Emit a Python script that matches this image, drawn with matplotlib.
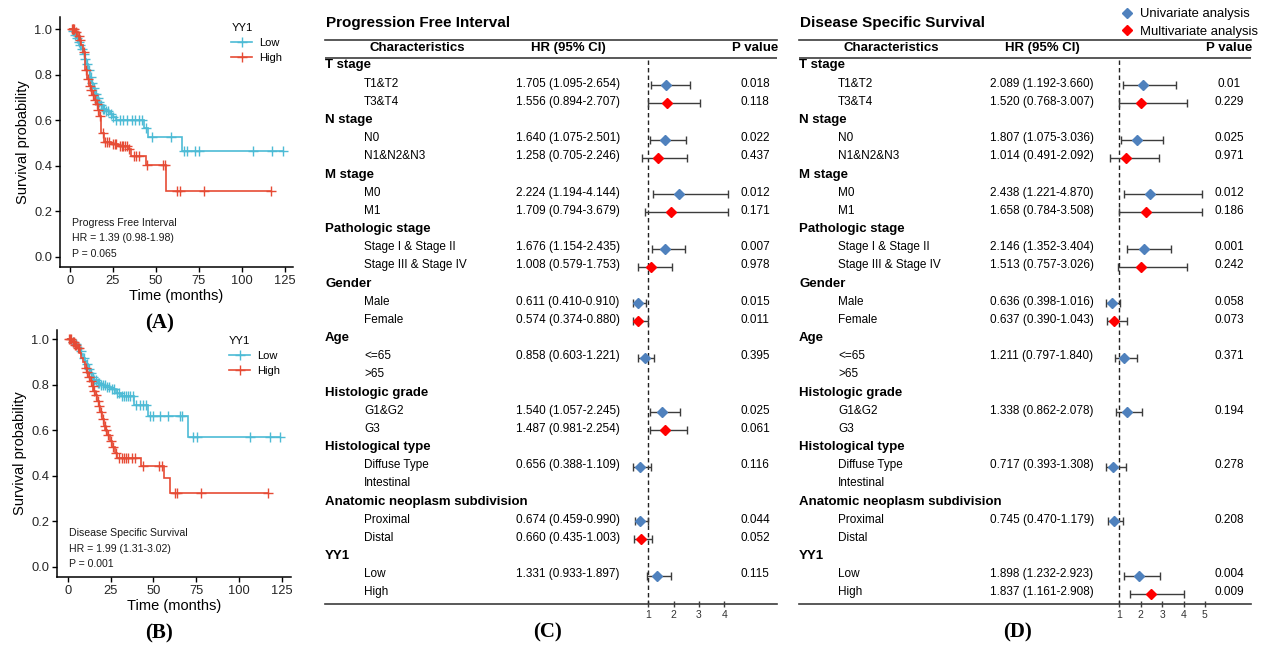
import numpy as np
import matplotlib
matplotlib.use('Agg')
import matplotlib.pyplot as plt
from matplotlib.lines import Line2D
from matplotlib.transforms import blended_transform_factory

plt.rcParams['font.family'] = ['Liberation Sans', 'DejaVu Sans']

W, H = 1263, 647
fig = plt.figure(figsize=(W / 100, H / 100), dpi=100)


def px_axes(x0, y0, x1, y1):
    return fig.add_axes([x0 / W, 1 - y1 / H, (x1 - x0) / W, (y1 - y0) / H])


# ---------------- Kaplan-Meier data ----------------
LOW_COLOR = '#4DBBD5'
HIGH_COLOR = '#E64B35'

A_low_t = [0, 1.5, 2.5, 3.5, 4.5, 5.5, 6.5, 7.5, 8.5, 9.5, 10.5, 11.5, 12.5, 13.5, 14.5,
           15.5, 16.5, 17.5, 19, 21, 23, 25, 27, 43, 45.5, 65]
A_low_s = [1.0, 0.99, 0.975, 0.96, 0.945, 0.93, 0.91, 0.89, 0.87, 0.845, 0.82, 0.79, 0.765,
           0.74, 0.715, 0.695, 0.68, 0.665, 0.65, 0.638, 0.625, 0.612, 0.602, 0.565, 0.525, 0.465]
A_low_c = [2, 3, 4, 5, 6, 7, 8, 9, 10, 11, 12, 13, 14, 15, 16, 17, 18, 19, 20, 21, 22, 24, 25,
           27, 29, 31, 33, 36, 38, 40, 42, 44, 47.5, 58.5, 66.5, 68, 72.5, 75, 106.5, 117.5, 124]

A_high_t = [0, 3, 4.5, 5.5, 6.5, 7.5, 8.5, 9, 10, 11, 12, 13, 14, 15, 16, 17, 18, 19.5, 24,
            28, 33.5, 35.5, 44, 56]
A_high_s = [1.0, 0.985, 0.97, 0.95, 0.93, 0.90, 0.86, 0.82, 0.78, 0.75, 0.73, 0.71, 0.69, 0.67,
            0.645, 0.62, 0.545, 0.505, 0.493, 0.486, 0.472, 0.442, 0.403, 0.287]
A_high_c = [1, 1.5, 2, 2.5, 3.5, 5, 6, 8, 9.5, 10.5, 11.5, 12.5, 13.5, 14.5, 15.5, 16.5, 17.5,
            19, 20.5, 21.5, 22.5, 25, 26, 27, 29, 30, 31, 32, 33, 34.5, 37, 38.5, 40, 44.5, 54,
            55, 62, 64, 78, 117]

B_low_t = [0, 2, 4, 6, 7, 8, 9, 10, 11, 12, 13, 14, 15, 17, 19, 22, 25, 28, 31, 39, 47, 70]
B_low_s = [1.0, 0.99, 0.98, 0.965, 0.95, 0.935, 0.92, 0.905, 0.89, 0.87, 0.85, 0.835, 0.82,
           0.81, 0.80, 0.79, 0.78, 0.765, 0.75, 0.711, 0.665, 0.571]
B_low_c = [3, 5, 7.5, 9.5, 11.5, 12.5, 13.5, 14.5, 15.5, 16.5, 17.5, 18.5, 19.5, 20.5, 21.5,
           23, 24, 26, 27, 29, 30, 32, 33, 34, 35, 36.5, 38, 40, 42, 44, 46, 48, 50, 54, 58.5,
           65.5, 67, 73, 75.5, 106.5, 118, 124]

B_high_t = [0, 2.5, 4, 5.5, 7, 8, 9, 10, 11, 12, 13, 14, 15, 16, 17, 18, 19, 20, 21, 22, 23,
            24.5, 26, 27.5, 29, 43, 56, 60]
B_high_s = [1.0, 0.99, 0.975, 0.96, 0.94, 0.92, 0.90, 0.875, 0.855, 0.835, 0.815, 0.795, 0.775,
            0.755, 0.73, 0.705, 0.68, 0.65, 0.62, 0.60, 0.58, 0.555, 0.525, 0.50, 0.48, 0.445,
            0.39, 0.323]
B_high_c = [1, 1.5, 2, 3, 3.5, 4.5, 5, 6, 6.5, 10.5, 11.5, 12.5, 13.5, 14.5, 15.5, 16.5, 17.5,
            18.5, 19.5, 20.5, 21.5, 22.5, 23.5, 25, 26.5, 28, 30, 31.5, 33, 34, 35.5, 37.5, 39.5,
            44, 53.5, 55, 62.5, 64, 78, 117]

km_groups = ['Low', 'High']
km_xticks = [0, 25, 50, 75, 100, 125]
km_yticks = [0.0, 0.2, 0.4, 0.6, 0.8, 1.0]
A_annot = ['Progress Free Interval', 'HR = 1.39 (0.98-1.98)', 'P = 0.065']
B_annot = ['Disease Specific Survival', 'HR = 1.99 (1.31-3.02)', 'P = 0.001']


def km_panel(ax, curves, annot, xlim, ylim):
    for t, s, c, color in curves:
        t = np.asarray(t, float)
        s = np.asarray(s, float)
        c = np.asarray(c, float)
        tend = max(t.max(), c.max())
        ax.plot(np.r_[t, tend], np.r_[s, s[-1]], drawstyle='steps-post', color=color,
                lw=1.2, solid_joinstyle='miter')
        cy = s[np.searchsorted(t, c, side='right') - 1]
        ax.plot(c, cy, ls='none', marker='+', ms=7, mew=1.0, color=color)
    ax.set_xlim(*xlim)
    ax.set_ylim(*ylim)
    ax.set_xticks(km_xticks)
    ax.set_yticks(km_yticks)
    ax.set_yticklabels([f'{v:.1f}' for v in km_yticks])
    for sp in ['top', 'right']:
        ax.spines[sp].set_visible(False)
    for sp in ['left', 'bottom']:
        ax.spines[sp].set_linewidth(1.1)
        ax.spines[sp].set_color('black')
    ax.tick_params(direction='out', length=3.5, width=1.0, labelsize=9.3,
                   labelcolor='#262626', pad=2)
    ax.set_xlabel('Time (months)', fontsize=10.5, labelpad=2)
    ax.set_ylabel('Survival probability', fontsize=10.5, labelpad=3)
    ax.patch.set_alpha(0)
    handles = [Line2D([], [], color=col, lw=1.2, marker='+', ms=7, mew=1.0)
               for col in (LOW_COLOR, HIGH_COLOR)]
    ax.legend(handles, km_groups, title='YY1', loc='upper left',
              bbox_to_anchor=(0.735, 0.975), frameon=False, fontsize=8,
              title_fontsize=8, borderpad=0, borderaxespad=0,
              handlelength=1.9, handletextpad=0.6, labelspacing=0.45,
              alignment='left')
    for i, line in enumerate(annot):
        ax.text(0.05, 0.178 - i * 0.063, line, transform=ax.transAxes, fontsize=7.6,
                color='#1a1a1a', va='center', ha='left')


axA = px_axes(60, 17, 293, 267)
km_panel(axA, [(A_low_t, A_low_s, A_low_c, LOW_COLOR), (A_high_t, A_high_s, A_high_c, HIGH_COLOR)],
         A_annot, (-5.81, 129.65), (-0.0452, 1.0527))
axB = px_axes(57, 330, 291, 577)
km_panel(axB, [(B_low_t, B_low_s, B_low_c, LOW_COLOR), (B_high_t, B_high_s, B_high_c, HIGH_COLOR)],
         B_annot, (-6.25, 130.4), (-0.044, 1.041))

# ---------------- Forest data ----------------
row_labels = ['T stage', 'T1&T2', 'T3&T4', 'N stage', 'N0', 'N1&N2&N3', 'M stage', 'M0', 'M1',
              'Pathologic stage', 'Stage I & Stage II', 'Stage III & Stage IV', 'Gender', 'Male',
              'Female', 'Age', '<=65', '>65', 'Histologic grade', 'G1&G2', 'G3',
              'Histological type', 'Diffuse Type', 'Intestinal', 'Anatomic neoplasm subdivision',
              'Proximal', 'Distal', 'YY1', 'Low', 'High']
row_is_group = [True, False, False, True, False, False, True, False, False,
                True, False, False, True, False, False, True, False, False, True, False, False,
                True, False, False, True, False, False, True, False, False]

# Progression Free Interval
C_hr_text = ['', '1.705 (1.095-2.654)', '1.556 (0.894-2.707)', '', '1.640 (1.075-2.501)',
             '1.258 (0.705-2.246)', '', '2.224 (1.194-4.144)', '1.709 (0.794-3.679)', '',
             '1.676 (1.154-2.435)', '1.008 (0.579-1.753)', '', '0.611 (0.410-0.910)',
             '0.574 (0.374-0.880)', '', '0.858 (0.603-1.221)', '', '', '1.540 (1.057-2.245)',
             '1.487 (0.981-2.254)', '', '0.656 (0.388-1.109)', '', '', '0.674 (0.459-0.990)',
             '0.660 (0.435-1.003)', '', '1.331 (0.933-1.897)', '']
C_p_text = ['', '0.018', '0.118', '', '0.022', '0.437', '', '0.012', '0.171', '', '0.007', '0.978',
            '', '0.015', '0.011', '', '0.395', '', '', '0.025', '0.061', '', '0.116', '', '',
            '0.044', '0.052', '', '0.115', '']
nan = np.nan
C_est = [nan, 1.705, 1.73, nan, 1.640, 1.37, nan, 2.224, 1.90, nan, 1.676, 1.11, nan, 0.611,
         0.61, nan, 0.858, nan, nan, 1.540, 1.66, nan, 0.656, nan, nan, 0.674, 0.70, nan, 1.331, nan]
C_lo = [nan, 1.095, 1.00, nan, 1.075, 0.76, nan, 1.194, 0.87, nan, 1.154, 0.61, nan, 0.410,
        0.41, nan, 0.603, nan, nan, 1.057, 1.07, nan, 0.388, nan, nan, 0.459, 0.45, nan, 0.933, nan]
C_hi = [nan, 2.654, 3.04, nan, 2.501, 2.52, nan, 4.144, 4.16, nan, 2.435, 1.95, nan, 0.910,
        1.00, nan, 1.221, nan, nan, 2.245, 2.54, nan, 1.109, nan, nan, 0.990, 1.13, nan, 1.897, nan]
C_kind = ['', 'u', 'm', '', 'u', 'm', '', 'u', 'm', '', 'u', 'm', '', 'u', 'm', '', 'u', '', '',
          'u', 'm', '', 'u', '', '', 'u', 'm', '', 'u', '']

# Disease Specific Survival
D_hr_text = ['', '2.089 (1.192-3.660)', '1.520 (0.768-3.007)', '', '1.807 (1.075-3.036)',
             '1.014 (0.491-2.092)', '', '2.438 (1.221-4.870)', '1.658 (0.784-3.508)', '',
             '2.146 (1.352-3.404)', '1.513 (0.757-3.026)', '', '0.636 (0.398-1.016)',
             '0.637 (0.390-1.043)', '', '1.211 (0.797-1.840)', '', '', '1.338 (0.862-2.078)',
             '', '', '0.717 (0.393-1.308)', '', '', '0.745 (0.470-1.179)', '', '',
             '1.898 (1.232-2.923)', '1.837 (1.161-2.908)']
D_p_text = ['', '0.01', '0.229', '', '0.025', '0.971', '', '0.012', '0.186', '', '0.001', '0.242',
            '', '0.058', '0.073', '', '0.371', '', '', '0.194', '', '', '0.278', '', '', '0.208',
            '', '', '0.004', '0.009']
D_est = [nan, 2.089, 2.01, nan, 1.807, 1.31, nan, 2.438, 2.23, nan, 2.146, 2.01, nan, 0.636,
         0.75, nan, 1.211, nan, nan, 1.338, nan, nan, 0.717, nan, nan, 0.745, nan, nan, 1.898, 2.47]
D_lo = [nan, 1.192, 0.99, nan, 1.075, 0.57, nan, 1.221, 1.00, nan, 1.352, 0.95, nan, 0.398,
        0.41, nan, 0.797, nan, nan, 0.862, nan, nan, 0.393, nan, nan, 0.470, nan, nan, 1.232, 1.50]
D_hi = [nan, 3.660, 4.18, nan, 3.036, 2.85, nan, 4.870, 4.88, nan, 3.404, 4.18, nan, 1.016,
        1.35, nan, 1.840, nan, nan, 2.078, nan, nan, 1.308, nan, nan, 1.179, nan, nan, 2.923, 4.02]
D_kind = ['', 'u', 'm', '', 'u', 'm', '', 'u', 'm', '', 'u', 'm', '', 'u', 'm', '', 'u', '', '',
          'u', '', '', 'u', '', '', 'u', '', '', 'u', 'm']

UNI_COLOR = '#4F81BD'
MULTI_COLOR = '#FF0000'
LINE_GRAY = '#3c3c3c'
MS = 4.6
headers = ['Characteristics', 'HR (95% CI)', 'P value']
legend_labels = ['Univariate analysis', 'Multivariate analysis']


def forest(x0, x1, title, hr_text, p_text, est, lo, hi, kind, xticks, xlim):
    ax = px_axes(x0, 40, x1, 604)
    width = x1 - x0

    def fx(px_rel):
        return px_rel / width

    nrow = len(row_labels)
    ax.set_xlim(*xlim)
    ax.set_ylim(30.64, -0.403)
    ax.set_yticks([])
    ax.set_xticks(xticks)
    for sp in ['left', 'right']:
        ax.spines[sp].set_visible(False)
    for sp in ['top', 'bottom']:
        ax.spines[sp].set_color(LINE_GRAY)
        ax.spines[sp].set_linewidth(1.2)
    ax.tick_params(axis='x', direction='inout', length=5, width=1, colors=LINE_GRAY,
                   labelsize=7.5, labelcolor='#333333', pad=1.5)
    ax.axhline(0.59, color=LINE_GRAY, lw=1.2)
    ax.plot([1, 1], [0.72, 30.64], ls=(0, (3.2, 2.2)), color='#222222', lw=1.0)
    tr = blended_transform_factory(ax.transAxes, ax.transData)
    hy = 0.05
    ax.text(fx(92), hy, headers[0], transform=tr, ha='center', va='center',
            fontsize=9.5, fontweight='bold')
    ax.text(fx(243), hy, headers[1], transform=tr, ha='center', va='center',
            fontsize=9.5, fontweight='bold')
    ax.text(fx(430), hy, headers[2], transform=tr, ha='center', va='center',
            fontsize=9.5, fontweight='bold')
    for i in range(nrow):
        r = i + 1
        if row_is_group[i]:
            ax.text(fx(0), r, row_labels[i], transform=tr, ha='left', va='center',
                    fontsize=9.5, fontweight='bold')
        else:
            ax.text(fx(39), r, row_labels[i], transform=tr, ha='left', va='center',
                    fontsize=8.5)
        if hr_text[i]:
            ax.text(fx(243), r, hr_text[i], transform=tr, ha='center', va='center', fontsize=8.5)
        if p_text[i]:
            ax.text(fx(430), r, p_text[i], transform=tr, ha='center', va='center', fontsize=8.5)
        if kind[i]:
            col = UNI_COLOR if kind[i] == 'u' else MULTI_COLOR
            ax.errorbar([est[i]], [r + 0.08], xerr=[[est[i] - lo[i]], [hi[i] - est[i]]],
                        fmt='none', ecolor=LINE_GRAY, elinewidth=1.0, capsize=2.6,
                        capthick=1.0, zorder=2)
            ax.plot([est[i]], [r + 0.08], marker='D', ms=MS, color=col, mec=col,
                    ls='none', zorder=3)
    fig.text((x0 + 1) / W, 1 - 23 / H, title, fontsize=11, fontweight='bold',
             ha='left', va='center')
    return ax


axC = forest(325, 777, 'Progression Free Interval', C_hr_text, C_p_text, C_est, C_lo, C_hi,
             C_kind, [1, 2, 3, 4], (1 - 323.3 / 25.33, 1 + 128.7 / 25.33))
axD = forest(799, 1251, 'Disease Specific Survival', D_hr_text, D_p_text, D_est, D_lo, D_hi,
             D_kind, [1, 2, 3, 4, 5], (1 - 320.3 / 21.4, 1 + 131.7 / 21.4))

leg_handles = [Line2D([], [], ls='none', marker='D', ms=MS, color=UNI_COLOR),
               Line2D([], [], ls='none', marker='D', ms=MS, color=MULTI_COLOR)]
fig.legend(leg_handles, legend_labels, loc='upper left', bbox_to_anchor=(1119 / W, 1 - 8 / H),
           frameon=False, fontsize=9.4, borderpad=0, borderaxespad=0, handlelength=1.2,
           handletextpad=0.4, labelspacing=0.42)

# panel labels
for lab, x, y in [('(A)', 160, 323), ('(B)', 159, 633), ('(C)', 548, 632), ('(D)', 1018, 632)]:
    fig.text(x / W, 1 - y / H, lab, fontsize=15, fontweight='bold', ha='center', va='center',
             family=['Liberation Serif', 'DejaVu Serif'])

fig.savefig('out.png', dpi=100)
